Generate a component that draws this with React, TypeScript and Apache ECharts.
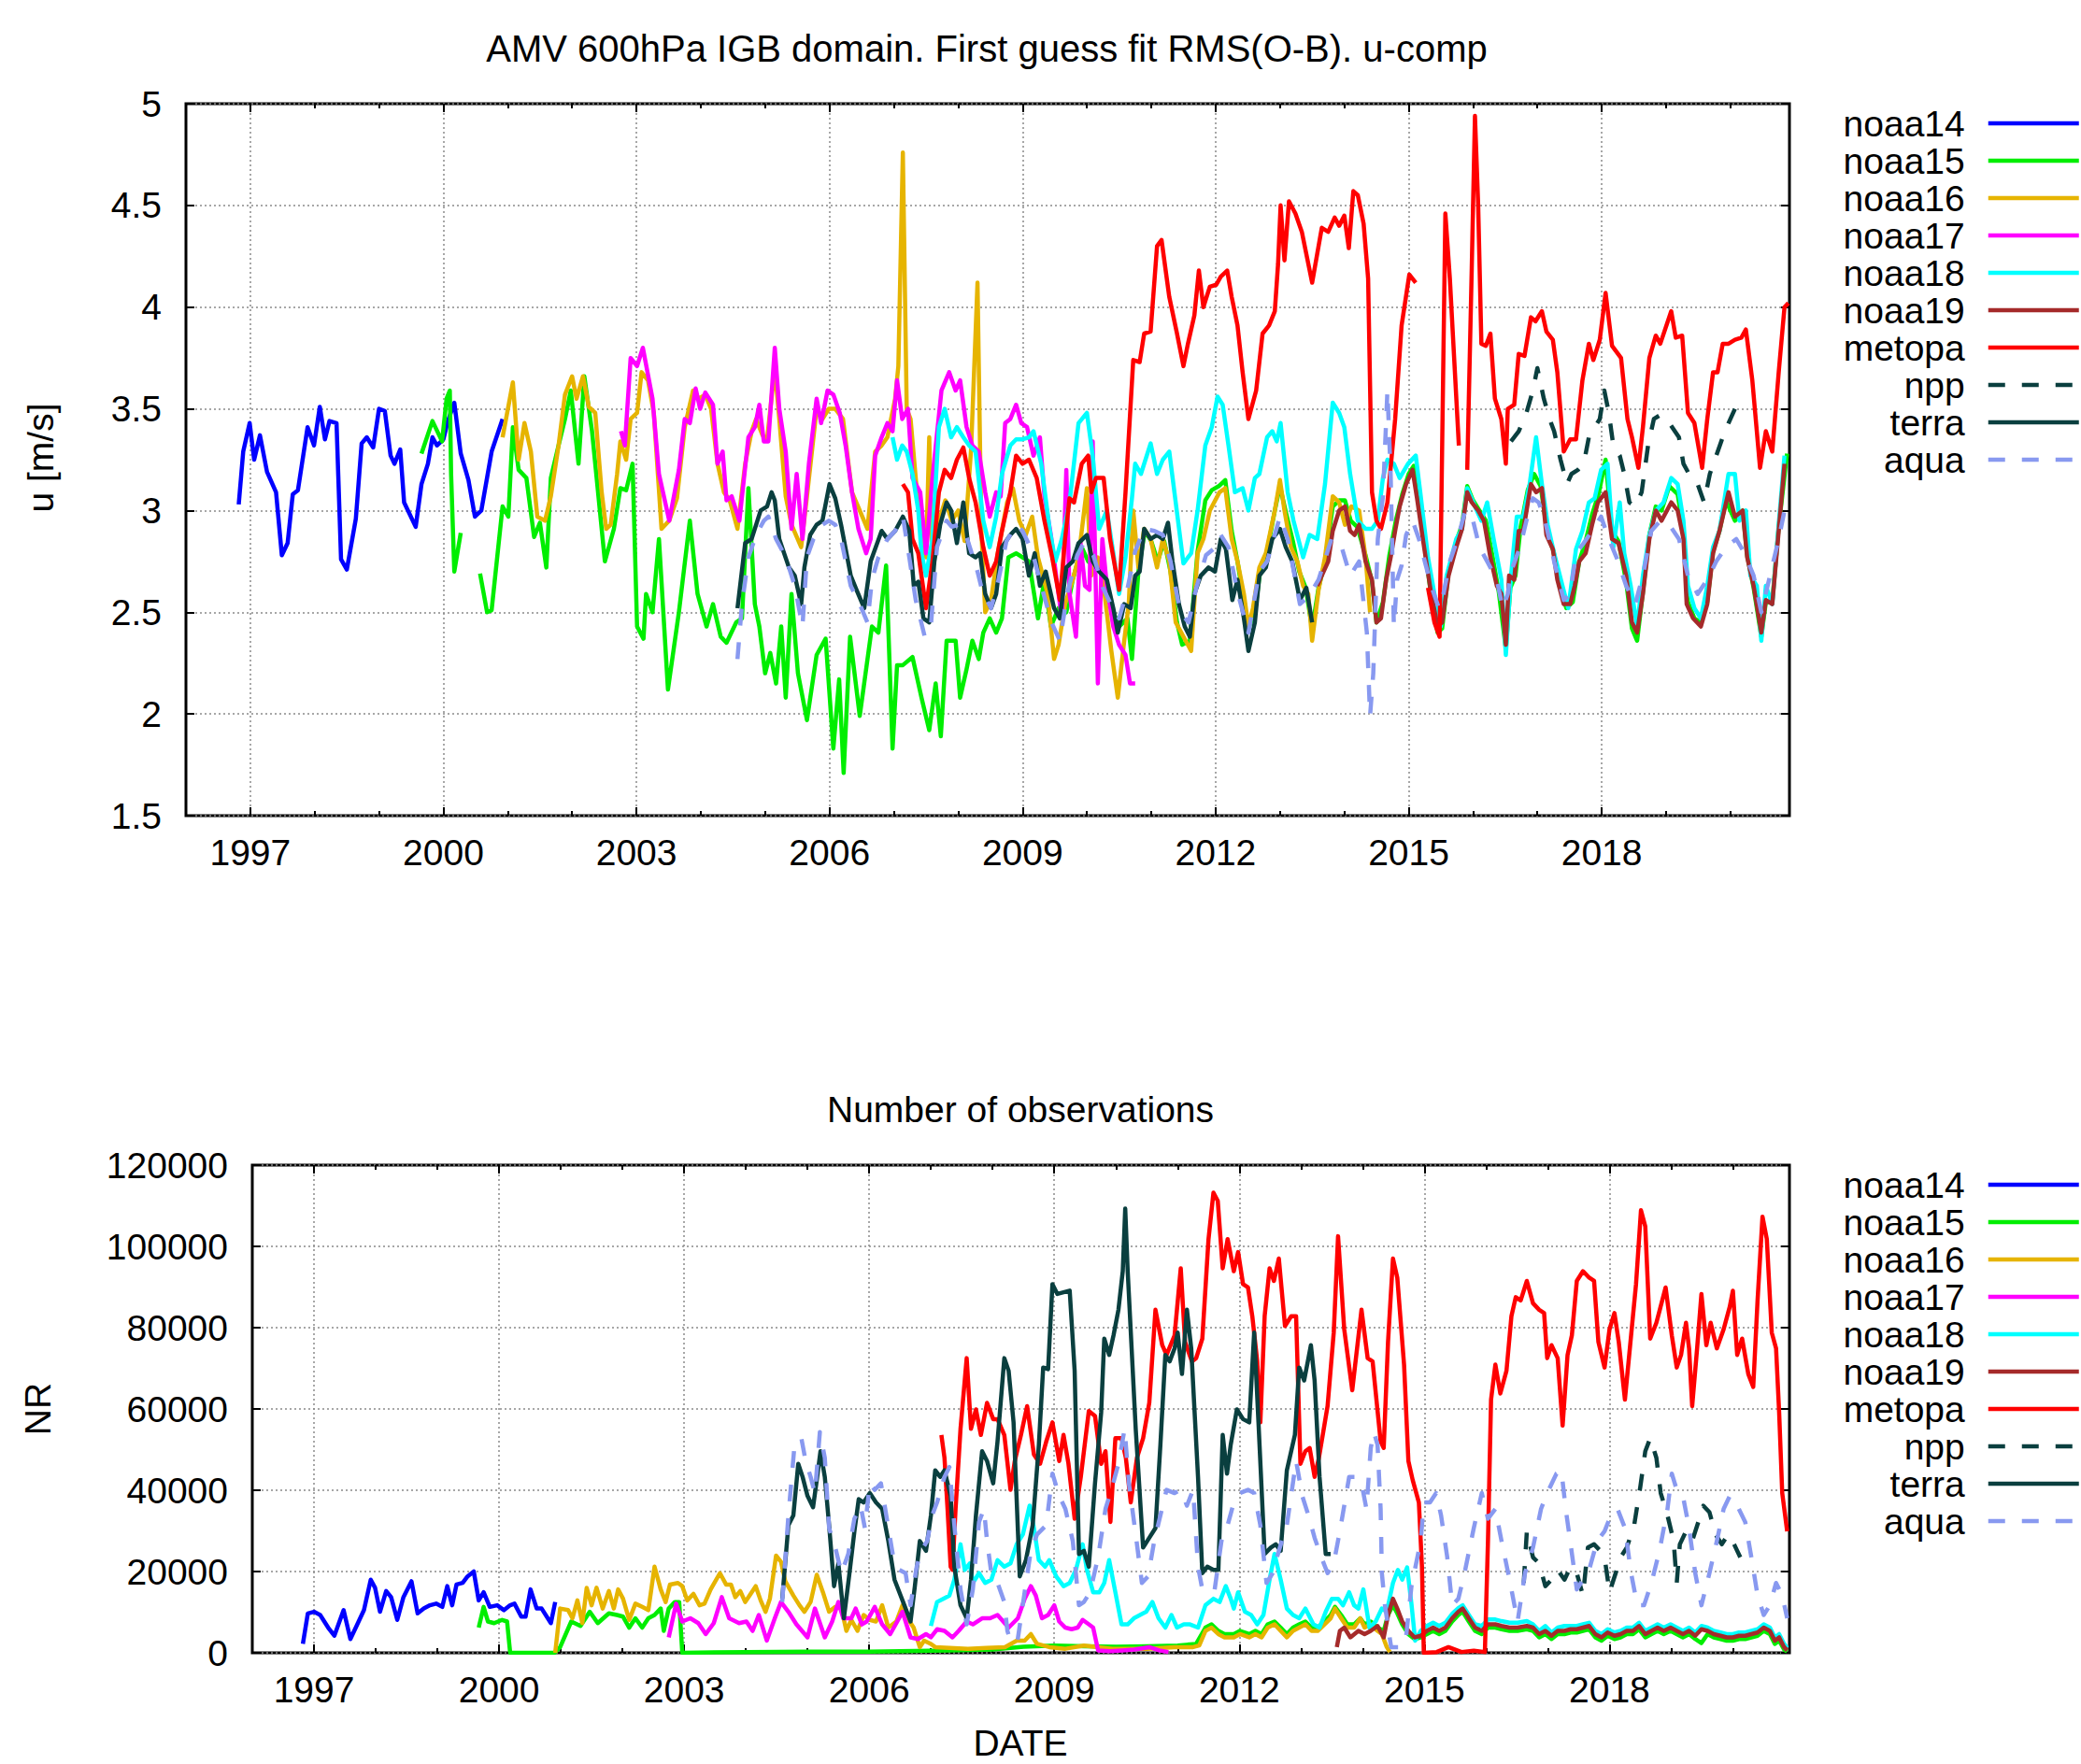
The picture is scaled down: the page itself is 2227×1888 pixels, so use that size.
import React, { useEffect, useRef } from "react";
import * as echarts from "echarts";

type Pt = [number, number | null];

const SERIES_NAMES = ["noaa14", "noaa15", "noaa16", "noaa17", "noaa18", "noaa19", "metopa", "npp", "terra", "aqua"];
const MAJOR_YEARS = [1997, 2000, 2003, 2006, 2009, 2012, 2015, 2018];
const ALL_YEARS = [1997, 1998, 1999, 2000, 2001, 2002, 2003, 2004, 2005, 2006, 2007, 2008, 2009, 2010, 2011, 2012, 2013, 2014, 2015, 2016, 2017, 2018, 2019, 2020];
const X_MIN = 1996.0;
const X_MAX = 2020.917;
const U_MIN = 1.5, U_MAX = 5, U_STEP = 0.5;
const N_MIN = 0, N_MAX = 120000, N_STEP = 20000;

const TITLE_TOP = "AMV 600hPa IGB domain. First guess fit RMS(O-B). u-comp";
const TITLE_BOTTOM = "Number of observations";
const YNAME_TOP = "u [m/s]";
const YNAME_BOTTOM = "NR";
const XNAME_BOTTOM = "DATE";

// ---------- RMS(O-B) u-comp [m/s] ----------
const U_NOAA14: Pt[] = [[1996.82,3.03],[1996.89,3.29],[1996.99,3.43],[1997.06,3.25],[1997.15,3.37],[1997.26,3.19],[1997.40,3.09],[1997.49,2.78],[1997.58,2.84],[1997.66,3.08],[1997.74,3.10],[1997.89,3.41],[1997.99,3.32],[1998.08,3.51],[1998.16,3.35],[1998.23,3.44],[1998.34,3.43],[1998.41,2.76],[1998.50,2.71],[1998.64,2.96],[1998.73,3.33],[1998.81,3.36],[1998.91,3.31],[1999.00,3.50],[1999.09,3.49],[1999.18,3.27],[1999.24,3.23],[1999.33,3.30],[1999.39,3.04],[1999.57,2.92],[1999.66,3.13],[1999.76,3.23],[1999.83,3.36],[1999.90,3.32],[2000.00,3.35],[2000.07,3.44],[2000.17,3.53],[2000.27,3.28],[2000.39,3.15],[2000.49,2.97],[2000.59,3.00],[2000.75,3.29],[2000.92,3.45]];

const U_NOAA15: Pt[] = [[1999.66,3.28],[1999.83,3.44],[1999.98,3.34],[2000.05,3.55],[2000.10,3.59],[2000.12,3.18],[2000.17,2.70],[2000.27,2.89],[2000.42,null],[2000.57,2.69],[2000.68,2.50],[2000.75,2.51],[2000.92,3.02],[2001.01,2.97],[2001.08,3.41],[2001.17,3.20],[2001.29,3.16],[2001.41,2.87],[2001.50,2.94],[2001.60,2.72],[2001.67,3.16],[2001.79,3.32],[2001.89,3.45],[2001.98,3.59],[2002.10,3.23],[2002.19,3.66],[2002.31,3.39],[2002.41,3.07],[2002.51,2.75],[2002.65,2.91],[2002.75,3.11],[2002.84,3.10],[2002.94,3.23],[2003.01,2.43],[2003.11,2.37],[2003.15,2.59],[2003.25,2.50],[2003.35,2.86],[2003.49,2.12],[2003.66,2.50],[2003.83,2.95],[2003.95,2.59],[2004.09,2.43],[2004.19,2.54],[2004.31,2.38],[2004.40,2.35],[2004.55,2.45],[2004.64,2.47],[2004.74,3.11],[2004.84,2.54],[2004.91,2.43],[2005.00,2.20],[2005.08,2.30],[2005.17,2.15],[2005.25,2.43],[2005.32,2.08],[2005.41,2.59],[2005.51,2.20],[2005.65,1.97],[2005.80,2.29],[2005.94,2.37],[2006.06,1.83],[2006.15,2.17],[2006.22,1.71],[2006.32,2.38],[2006.47,1.99],[2006.66,2.43],[2006.76,2.40],[2006.88,2.73],[2006.98,1.83],[2007.05,2.24],[2007.14,2.24],[2007.29,2.28],[2007.43,2.08],[2007.55,1.92],[2007.65,2.15],[2007.73,1.89],[2007.82,2.36],[2007.96,2.36],[2008.03,2.08],[2008.13,2.22],[2008.22,2.36],[2008.32,2.27],[2008.39,2.40],[2008.49,2.47],[2008.59,2.40],[2008.68,2.47],[2008.78,2.77],[2008.90,2.79],[2009.00,2.77],[2009.10,2.75],[2009.24,2.47],[2009.34,2.66],[2009.44,2.43],[2009.56,2.52],[2009.68,2.50],[2009.78,2.66],[2009.92,2.82],[2010.02,2.75],[2010.12,2.72],[2010.21,2.75],[2010.36,2.54],[2010.50,2.43],[2010.63,2.47],[2010.70,2.27],[2010.80,2.70],[2010.90,2.90],[2011.00,2.85],[2011.10,2.75],[2011.20,2.85],[2011.30,2.70],[2011.40,2.45],[2011.48,2.34],[2011.60,2.36],[2011.72,2.80],[2011.84,3.05],[2011.94,3.10],[2012.05,3.12],[2012.15,3.15],[2012.25,2.90],[2012.34,2.75],[2012.44,2.55],[2012.51,2.42],[2012.61,2.50],[2012.70,2.72],[2012.80,2.80],[2012.92,3.00],[2013.00,3.12],[2013.10,2.98],[2013.20,2.85],[2013.30,2.70],[2013.40,2.62],[2013.50,2.42],[2013.60,2.62],[2013.70,2.75],[2013.82,3.02],[2013.92,3.05],[2014.01,3.05],[2014.10,2.95],[2014.20,2.92],[2014.33,2.78],[2014.43,2.65],[2014.50,2.45],[2014.60,2.55],[2014.70,2.78],[2014.80,2.95],[2014.90,3.08],[2015.00,3.18],[2015.08,3.22],[2015.15,3.05],[2015.25,2.82],[2015.35,2.58],[2015.45,2.40],[2015.52,2.42],[2015.62,2.70],[2015.74,2.85],[2015.83,2.93],[2015.91,3.12],[2016.00,3.05],[2016.10,3.00],[2016.20,2.95],[2016.30,2.78],[2016.40,2.60],[2016.51,2.32],[2016.58,2.62],[2016.66,2.68],[2016.74,2.92],[2016.85,3.10],[2016.95,3.18],[2017.05,3.12],[2017.15,2.90],[2017.25,2.80],[2017.35,2.62],[2017.45,2.52],[2017.55,2.55],[2017.65,2.75],[2017.75,2.85],[2017.85,2.98],[2017.95,3.08],[2018.06,3.25],[2018.16,2.90],[2018.26,2.85],[2018.38,2.65],[2018.47,2.42],[2018.55,2.36],[2018.64,2.60],[2018.74,2.88],[2018.84,3.02],[2018.93,3.00],[2019.05,3.12],[2019.18,3.08],[2019.27,2.90],[2019.34,2.55],[2019.44,2.47],[2019.54,2.45],[2019.64,2.55],[2019.73,2.80],[2019.83,2.90],[2019.93,3.05],[2020.07,2.95],[2020.19,3.00],[2020.26,2.78],[2020.36,2.62],[2020.48,2.38],[2020.55,2.55],[2020.65,2.55],[2020.75,2.92],[2020.88,3.28]];

const U_NOAA16: Pt[] = [[2000.92,3.36],[2001.08,3.63],[2001.17,3.25],[2001.26,3.43],[2001.36,3.29],[2001.46,2.97],[2001.58,2.95],[2001.67,3.07],[2001.79,3.32],[2001.89,3.57],[2002.00,3.66],[2002.07,3.55],[2002.17,3.66],[2002.26,3.51],[2002.36,3.48],[2002.46,3.09],[2002.53,2.91],[2002.60,2.93],[2002.70,3.18],[2002.75,3.34],[2002.84,3.25],[2002.91,3.45],[2003.01,3.48],[2003.08,3.68],[2003.18,3.64],[2003.27,3.48],[2003.39,2.91],[2003.51,2.95],[2003.63,3.06],[2003.75,3.41],[2003.88,3.59],[2003.97,3.55],[2004.07,3.57],[2004.16,3.50],[2004.26,3.23],[2004.36,3.09],[2004.45,3.05],[2004.57,2.91],[2004.69,3.23],[2004.79,3.39],[2004.86,3.45],[2004.96,3.37],[2005.03,3.35],[2005.15,3.70],[2005.22,3.45],[2005.32,3.07],[2005.41,2.93],[2005.56,2.82],[2005.65,3.07],[2005.80,3.50],[2005.89,3.45],[2005.99,3.50],[2006.09,3.50],[2006.21,3.45],[2006.35,3.09],[2006.47,3.00],[2006.59,2.91],[2006.71,3.29],[2006.81,3.32],[2006.90,3.36],[2007.02,3.55],[2007.07,3.71],[2007.14,4.76],[2007.20,3.50],[2007.26,3.45],[2007.34,3.16],[2007.43,2.86],[2007.50,2.77],[2007.55,3.36],[2007.60,2.70],[2007.70,2.95],[2007.80,3.05],[2007.90,2.95],[2008.00,3.00],[2008.10,2.85],[2008.20,3.30],[2008.30,4.12],[2008.36,2.90],[2008.42,2.50],[2008.51,2.56],[2008.62,2.80],[2008.76,3.04],[2008.85,3.11],[2008.95,2.95],[2009.05,2.88],[2009.15,2.97],[2009.24,2.77],[2009.39,2.59],[2009.49,2.27],[2009.56,2.34],[2009.66,2.54],[2009.78,2.66],[2009.87,2.77],[2010.00,3.11],[2010.07,2.68],[2010.17,2.77],[2010.26,2.63],[2010.38,2.31],[2010.48,2.08],[2010.58,2.36],[2010.65,2.54],[2010.72,3.00],[2010.80,2.72],[2010.89,2.91],[2010.99,2.86],[2011.09,2.72],[2011.18,2.86],[2011.28,2.75],[2011.38,2.45],[2011.50,2.38],[2011.62,2.31],[2011.72,2.79],[2011.81,2.86],[2011.91,3.00],[2012.06,3.09],[2012.15,3.11],[2012.25,2.86],[2012.34,2.75],[2012.44,2.59],[2012.51,2.43],[2012.58,2.52],[2012.68,2.72],[2012.78,2.79],[2012.92,3.00],[2013.00,3.15],[2013.07,3.00],[2013.17,2.82],[2013.27,2.75],[2013.36,2.63],[2013.44,2.59],[2013.50,2.36],[2013.60,2.61],[2013.70,2.77],[2013.82,3.07],[2013.92,3.04],[2014.01,2.93],[2014.11,3.02],[2014.23,3.00],[2014.33,2.77],[2014.40,2.50]];

const U_NOAA17: Pt[] = [[2002.76,3.39],[2002.82,3.32],[2002.91,3.75],[2003.01,3.71],[2003.10,3.80],[2003.25,3.55],[2003.35,3.18],[2003.51,2.95],[2003.66,3.20],[2003.75,3.45],[2003.83,3.43],[2003.92,3.60],[2003.99,3.50],[2004.07,3.58],[2004.19,3.52],[2004.26,3.23],[2004.34,3.29],[2004.40,3.05],[2004.48,3.07],[2004.60,2.95],[2004.74,3.36],[2004.84,3.41],[2004.91,3.52],[2004.98,3.34],[2005.05,3.34],[2005.15,3.80],[2005.22,3.50],[2005.32,3.29],[2005.41,2.91],[2005.49,3.18],[2005.58,2.86],[2005.68,3.23],[2005.80,3.55],[2005.87,3.43],[2005.97,3.59],[2006.06,3.57],[2006.16,3.48],[2006.25,3.32],[2006.35,3.09],[2006.45,2.91],[2006.57,2.79],[2006.64,2.86],[2006.71,3.27],[2006.81,3.36],[2006.90,3.43],[2006.98,3.39],[2007.05,3.64],[2007.13,3.45],[2007.22,3.50],[2007.29,3.16],[2007.41,3.09],[2007.50,2.79],[2007.60,3.16],[2007.74,3.59],[2007.86,3.68],[2007.96,3.59],[2008.03,3.64],[2008.13,3.41],[2008.22,3.32],[2008.32,3.29],[2008.42,3.09],[2008.49,2.97],[2008.59,3.09],[2008.66,3.07],[2008.73,3.43],[2008.81,3.45],[2008.90,3.52],[2008.98,3.43],[2009.07,3.41],[2009.17,3.27],[2009.27,3.36],[2009.34,3.07],[2009.44,2.88],[2009.53,2.66],[2009.61,2.47],[2009.68,3.20],[2009.73,2.59],[2009.83,2.38],[2009.90,2.84],[2009.97,2.63],[2010.04,2.61],[2010.09,3.34],[2010.17,2.15],[2010.24,2.86],[2010.31,2.63],[2010.41,2.43],[2010.50,2.34],[2010.60,2.29],[2010.67,2.15],[2010.75,2.15]];

const U_NOAA18: Pt[] = [[2006.98,3.36],[2007.05,3.25],[2007.13,3.32],[2007.20,3.29],[2007.29,3.18],[2007.38,3.00],[2007.43,2.79],[2007.50,2.68],[2007.60,2.86],[2007.70,3.41],[2007.79,3.50],[2007.89,3.36],[2007.98,3.41],[2008.08,3.36],[2008.17,3.32],[2008.27,3.29],[2008.39,2.95],[2008.49,2.82],[2008.59,2.97],[2008.68,3.18],[2008.81,3.32],[2008.90,3.35],[2009.00,3.35],[2009.10,3.36],[2009.17,3.39],[2009.29,3.23],[2009.42,2.91],[2009.51,2.75],[2009.61,2.86],[2009.73,3.04],[2009.87,3.43],[2010.00,3.48],[2010.09,3.27],[2010.19,2.91],[2010.31,3.00],[2010.41,2.79],[2010.50,2.59],[2010.60,2.77],[2010.70,3.06],[2010.75,3.23],[2010.84,3.18],[2010.99,3.33],[2011.09,3.18],[2011.18,3.25],[2011.28,3.29],[2011.38,3.04],[2011.50,2.74],[2011.62,2.79],[2011.72,3.00],[2011.84,3.32],[2011.94,3.41],[2012.03,3.56],[2012.11,3.52],[2012.20,3.32],[2012.30,3.09],[2012.42,3.11],[2012.51,3.00],[2012.61,3.16],[2012.68,3.18],[2012.80,3.36],[2012.88,3.39],[2012.95,3.34],[2013.01,3.43],[2013.12,3.09],[2013.21,2.95],[2013.36,2.77],[2013.46,2.88],[2013.58,2.86],[2013.70,3.13],[2013.82,3.53],[2013.92,3.48],[2014.00,3.41],[2014.09,3.18],[2014.21,2.95],[2014.33,2.91],[2014.43,2.91],[2014.52,2.95],[2014.60,3.16],[2014.67,3.25],[2014.77,3.23],[2014.86,3.16],[2014.99,3.23],[2015.11,3.27],[2015.18,3.09],[2015.30,2.77],[2015.40,2.59],[2015.50,2.43],[2015.59,2.68],[2015.74,2.86],[2015.83,2.91],[2015.91,3.11],[2016.03,3.02],[2016.13,2.95],[2016.22,3.04],[2016.32,2.86],[2016.44,2.66],[2016.51,2.29],[2016.59,2.68],[2016.68,2.97],[2016.78,2.97],[2016.88,3.13],[2016.98,3.36],[2017.07,3.13],[2017.16,2.93],[2017.26,2.79],[2017.39,2.63],[2017.48,2.52],[2017.60,2.81],[2017.70,2.90],[2017.80,3.04],[2017.89,3.06],[2017.99,3.20],[2018.09,3.23],[2018.18,2.82],[2018.28,3.04],[2018.35,2.79],[2018.45,2.63],[2018.55,2.43],[2018.64,2.68],[2018.74,2.88],[2018.84,3.00],[2018.96,3.04],[2019.08,3.16],[2019.18,3.13],[2019.27,2.95],[2019.34,2.63],[2019.44,2.52],[2019.54,2.47],[2019.64,2.63],[2019.73,2.82],[2019.83,2.90],[2019.90,3.04],[2019.97,3.18],[2020.07,3.18],[2020.14,2.95],[2020.24,3.00],[2020.31,2.68],[2020.41,2.63],[2020.48,2.36],[2020.55,2.63],[2020.65,2.54],[2020.75,2.93],[2020.84,3.27]];

const U_NOAA19: Pt[] = [[2013.58,2.63],[2013.65,2.68],[2013.75,2.75],[2013.82,2.90],[2013.92,3.00],[2014.01,3.02],[2014.09,2.90],[2014.16,2.88],[2014.23,2.93],[2014.33,2.75],[2014.43,2.66],[2014.50,2.45],[2014.57,2.47],[2014.65,2.66],[2014.72,2.77],[2014.79,2.90],[2014.86,3.02],[2014.96,3.13],[2015.06,3.20],[2015.13,3.06],[2015.23,2.84],[2015.35,2.59],[2015.45,2.43],[2015.52,2.45],[2015.62,2.68],[2015.74,2.82],[2015.83,2.91],[2015.91,3.09],[2015.98,3.04],[2016.08,3.00],[2016.17,2.95],[2016.27,2.77],[2016.37,2.63],[2016.44,2.59],[2016.51,2.34],[2016.56,2.68],[2016.64,2.66],[2016.71,2.90],[2016.78,2.90],[2016.90,3.13],[2016.98,3.09],[2017.07,3.11],[2017.14,2.88],[2017.24,2.81],[2017.31,2.66],[2017.41,2.54],[2017.51,2.54],[2017.58,2.63],[2017.65,2.75],[2017.75,2.79],[2017.85,2.93],[2017.94,3.04],[2018.06,3.09],[2018.16,2.86],[2018.26,2.84],[2018.38,2.68],[2018.47,2.45],[2018.55,2.40],[2018.64,2.59],[2018.74,2.86],[2018.84,3.00],[2018.93,2.95],[2019.08,3.04],[2019.18,3.00],[2019.27,2.86],[2019.32,2.54],[2019.42,2.47],[2019.54,2.43],[2019.64,2.54],[2019.73,2.79],[2019.83,2.90],[2019.97,3.09],[2020.07,2.97],[2020.19,3.00],[2020.26,2.77],[2020.36,2.63],[2020.48,2.40],[2020.55,2.56],[2020.65,2.54],[2020.75,2.90],[2020.84,3.23]];

const U_METOPA: Pt[] = [[2007.14,3.13],[2007.22,3.09],[2007.29,2.86],[2007.38,2.79],[2007.50,2.52],[2007.60,2.75],[2007.70,3.09],[2007.79,3.20],[2007.89,3.16],[2007.98,3.25],[2008.08,3.31],[2008.17,3.16],[2008.27,3.04],[2008.39,2.82],[2008.49,2.68],[2008.59,2.75],[2008.68,2.90],[2008.81,3.09],[2008.90,3.27],[2009.00,3.23],[2009.10,3.25],[2009.22,3.16],[2009.34,2.95],[2009.46,2.77],[2009.58,2.56],[2009.66,2.86],[2009.73,3.06],[2009.80,3.04],[2009.92,3.23],[2010.02,3.27],[2010.07,3.09],[2010.14,3.16],[2010.26,3.16],[2010.36,2.86],[2010.50,2.61],[2010.60,3.09],[2010.72,3.74],[2010.82,3.73],[2010.89,3.87],[2010.99,3.88],[2011.09,4.30],[2011.16,4.33],[2011.28,4.05],[2011.40,3.87],[2011.50,3.71],[2011.57,3.82],[2011.67,3.96],[2011.74,4.18],[2011.81,4.00],[2011.91,4.10],[2012.01,4.11],[2012.08,4.15],[2012.18,4.18],[2012.25,4.05],[2012.34,3.91],[2012.42,3.68],[2012.51,3.45],[2012.63,3.59],[2012.73,3.87],[2012.83,3.91],[2012.92,3.98],[2012.97,4.21],[2013.01,4.50],[2013.07,4.23],[2013.14,4.52],[2013.24,4.46],[2013.34,4.37],[2013.50,4.12],[2013.65,4.39],[2013.75,4.37],[2013.85,4.44],[2013.92,4.40],[2014.00,4.45],[2014.07,4.29],[2014.14,4.57],[2014.21,4.55],[2014.30,4.41],[2014.37,4.14],[2014.43,3.09],[2014.50,2.95],[2014.57,2.91],[2014.67,3.04],[2014.79,3.45],[2014.89,3.91],[2015.01,4.16],[2015.11,4.12],[2015.20,null],[2015.30,2.62],[2015.40,2.45],[2015.48,2.38],[2015.57,4.46],[2015.64,4.14],[2015.78,3.32],[2015.85,null],[2015.91,3.20],[2015.98,4.19],[2016.03,4.94],[2016.08,4.50],[2016.13,3.82],[2016.20,3.81],[2016.27,3.87],[2016.34,3.55],[2016.44,3.45],[2016.51,3.23],[2016.54,3.50],[2016.64,3.52],[2016.71,3.77],[2016.80,3.76],[2016.90,3.95],[2016.97,3.93],[2017.07,3.98],[2017.14,3.88],[2017.24,3.84],[2017.31,3.68],[2017.41,3.29],[2017.51,3.35],[2017.60,3.35],[2017.70,3.64],[2017.80,3.82],[2017.87,3.74],[2017.97,3.84],[2018.06,4.07],[2018.16,3.81],[2018.30,3.75],[2018.40,3.45],[2018.47,3.36],[2018.57,3.21],[2018.64,3.41],[2018.74,3.75],[2018.84,3.86],[2018.91,3.82],[2019.08,3.98],[2019.15,3.85],[2019.25,3.86],[2019.34,3.48],[2019.44,3.43],[2019.56,3.21],[2019.64,3.45],[2019.73,3.68],[2019.80,3.68],[2019.88,3.82],[2019.97,3.82],[2020.07,3.84],[2020.17,3.85],[2020.24,3.89],[2020.34,3.64],[2020.46,3.21],[2020.55,3.39],[2020.65,3.29],[2020.75,3.68],[2020.84,4.00],[2020.90,4.02]];

const U_NPP: Pt[] = [[2016.59,3.34],[2016.71,3.39],[2016.83,3.48],[2016.93,3.59],[2017.00,3.70],[2017.10,3.55],[2017.19,3.45],[2017.26,3.39],[2017.36,3.25],[2017.46,3.13],[2017.53,3.18],[2017.63,3.20],[2017.72,3.23],[2017.80,3.36],[2017.89,3.41],[2017.97,3.45],[2018.04,3.59],[2018.11,3.48],[2018.18,3.32],[2018.28,3.27],[2018.35,3.18],[2018.43,3.04],[2018.52,3.02],[2018.62,3.09],[2018.72,3.32],[2018.81,3.45],[2018.91,3.47],[2019.03,3.44],[2019.20,3.36],[2019.27,3.23],[2019.39,3.16],[2019.49,3.13],[2019.59,3.04],[2019.68,3.18],[2019.78,3.27],[2019.88,3.36],[2019.97,3.43],[2020.07,3.50]];

const U_TERRA: Pt[] = [[2004.57,2.52],[2004.69,2.84],[2004.79,2.86],[2004.93,3.00],[2005.03,3.02],[2005.10,3.09],[2005.15,3.05],[2005.22,2.86],[2005.37,2.72],[2005.46,2.68],[2005.56,2.54],[2005.61,2.72],[2005.70,2.88],[2005.80,2.93],[2005.89,2.95],[2006.00,3.13],[2006.09,3.06],[2006.18,2.93],[2006.33,2.68],[2006.42,2.61],[2006.54,2.52],[2006.64,2.75],[2006.81,2.90],[2006.90,2.86],[2007.02,2.90],[2007.14,2.97],[2007.24,2.90],[2007.31,2.63],[2007.38,2.65],[2007.46,2.47],[2007.55,2.45],[2007.63,2.75],[2007.72,2.93],[2007.82,3.04],[2007.89,3.00],[2007.98,2.84],[2008.08,3.04],[2008.17,2.79],[2008.27,2.77],[2008.34,2.79],[2008.42,2.59],[2008.51,2.52],[2008.59,2.59],[2008.68,2.82],[2008.81,2.88],[2008.90,2.91],[2009.00,2.86],[2009.10,2.68],[2009.19,2.79],[2009.27,2.63],[2009.36,2.70],[2009.49,2.52],[2009.58,2.47],[2009.68,2.72],[2009.78,2.75],[2009.87,2.84],[2010.00,2.88],[2010.09,2.75],[2010.19,2.70],[2010.31,2.66],[2010.41,2.52],[2010.48,2.40],[2010.58,2.54],[2010.68,2.52],[2010.75,2.68],[2010.82,2.70],[2010.89,2.91],[2010.99,2.86],[2011.09,2.88],[2011.18,2.86],[2011.26,2.94],[2011.33,2.75],[2011.43,2.54],[2011.52,2.43],[2011.60,2.38],[2011.67,2.59],[2011.77,2.68],[2011.89,2.72],[2011.99,2.70],[2012.08,2.86],[2012.16,2.81],[2012.26,2.56],[2012.34,2.66],[2012.44,2.47],[2012.51,2.31],[2012.61,2.45],[2012.68,2.68],[2012.78,2.72],[2012.88,2.86],[2013.00,2.91],[2013.09,2.82],[2013.19,2.75],[2013.31,2.56],[2013.41,2.62],[2013.50,2.45]];

const U_AQUA: Pt[] = [[2004.57,2.27],[2004.64,2.54],[2004.74,2.77],[2004.86,2.88],[2004.98,2.95],[2005.05,2.97],[2005.17,2.86],[2005.32,2.77],[2005.46,2.63],[2005.58,2.43],[2005.65,2.77],[2005.75,2.86],[2005.89,2.93],[2005.99,2.95],[2006.09,2.93],[2006.18,2.86],[2006.33,2.63],[2006.47,2.54],[2006.59,2.45],[2006.66,2.66],[2006.76,2.77],[2006.90,2.86],[2007.02,2.90],[2007.14,2.97],[2007.24,2.77],[2007.34,2.56],[2007.48,2.38],[2007.58,2.45],[2007.67,2.82],[2007.82,2.95],[2007.90,2.92],[2008.00,2.93],[2008.10,2.90],[2008.20,2.80],[2008.30,2.70],[2008.37,2.61],[2008.51,2.52],[2008.62,2.65],[2008.75,2.85],[2008.90,2.93],[2009.00,2.90],[2009.15,2.80],[2009.30,2.62],[2009.45,2.45],[2009.58,2.36],[2009.70,2.60],[2009.85,2.78],[2009.95,2.84],[2010.10,2.78],[2010.25,2.62],[2010.40,2.52],[2010.50,2.47],[2010.62,2.60],[2010.75,2.80],[2010.89,2.91],[2011.05,2.90],[2011.18,2.88],[2011.30,2.75],[2011.45,2.50],[2011.58,2.45],[2011.70,2.62],[2011.85,2.78],[2012.00,2.82],[2012.08,2.88],[2012.20,2.82],[2012.34,2.60],[2012.51,2.40],[2012.68,2.70],[2012.80,2.75],[2013.00,2.97],[2013.12,2.86],[2013.31,2.54],[2013.45,2.58],[2013.60,2.66],[2013.80,2.86],[2013.94,2.84],[2014.09,2.68],[2014.23,2.75],[2014.35,2.40],[2014.40,1.99],[2014.45,2.20],[2014.52,2.86],[2014.60,3.07],[2014.67,3.59],[2014.72,3.18],[2014.77,2.43],[2014.82,2.66],[2014.89,2.73],[2014.96,2.88],[2015.06,2.95],[2015.16,2.86],[2015.25,2.75],[2015.35,2.63],[2015.47,2.52],[2015.54,2.59],[2015.64,2.75],[2015.76,2.86],[2015.88,3.00],[2016.00,2.95],[2016.10,2.82],[2016.22,2.75],[2016.37,2.66],[2016.46,2.52],[2016.54,2.59],[2016.59,2.70],[2016.73,2.82],[2016.83,2.95],[2016.93,3.06],[2017.02,3.04],[2017.12,2.95],[2017.26,2.75],[2017.41,2.56],[2017.51,2.59],[2017.60,2.79],[2017.72,2.84],[2017.85,2.90],[2017.99,2.97],[2018.11,2.86],[2018.23,2.77],[2018.38,2.63],[2018.52,2.54],[2018.64,2.68],[2018.77,2.90],[2018.91,2.95],[2019.05,2.93],[2019.20,2.86],[2019.34,2.68],[2019.49,2.59],[2019.64,2.66],[2019.78,2.75],[2019.93,2.82],[2020.09,2.86],[2020.22,2.79],[2020.36,2.68],[2020.48,2.50],[2020.60,2.66],[2020.75,2.86],[2020.84,3.00]];

// ---------- Number of observations ----------
const N_NOAA14: Pt[] = [[1996.82,2200],[1996.90,9700],[1997.00,10100],[1997.10,9300],[1997.23,6200],[1997.33,4200],[1997.48,10500],[1997.59,3400],[1997.69,6600],[1997.81,10500],[1997.92,18000],[1997.99,16000],[1998.07,10100],[1998.17,15200],[1998.25,13700],[1998.35,8100],[1998.45,13700],[1998.58,17600],[1998.68,9700],[1998.78,10900],[1998.88,11700],[1998.98,12100],[1999.08,11300],[1999.16,16400],[1999.24,11700],[1999.31,16800],[1999.41,17200],[1999.49,18800],[1999.59,20000],[1999.67,12900],[1999.75,14900],[1999.85,11300],[1999.97,11700],[2000.08,10500],[2000.18,11700],[2000.25,12100],[2000.36,8900],[2000.43,8900],[2000.51,15600],[2000.61,10900],[2000.69,10900],[2000.84,7300],[2000.91,12500]];

const N_NOAA15: Pt[] = [[1999.67,6200],[1999.75,11300],[1999.82,7700],[1999.92,7300],[2000.05,8100],[2000.13,7700],[2000.18,0],[2000.30,0],[2000.60,0],[2000.90,0],[2000.99,1400],[2001.17,7700],[2001.32,6600],[2001.47,10100],[2001.60,7300],[2001.78,9700],[2001.91,9300],[2002.01,8900],[2002.11,6200],[2002.21,8500],[2002.32,6200],[2002.42,8500],[2002.52,9300],[2002.62,10900],[2002.67,5400],[2002.75,10900],[2002.85,12500],[2002.92,12500],[2002.97,0],[2004.00,200],[2005.00,300],[2006.00,300],[2007.00,500],[2008.00,800],[2008.50,1500],[2009.00,1800],[2009.50,1600],[2010.00,1500],[2010.50,1600],[2011.00,1800],[2011.30,2200],[2011.45,6200],[2011.55,7000],[2011.66,5400],[2011.76,4600],[2011.91,4600],[2012.01,5400],[2012.16,4600],[2012.26,5400],[2012.36,4600],[2012.46,7000],[2012.57,7700],[2012.67,6200],[2012.77,4600],[2012.87,6200],[2012.97,7000],[2013.07,7700],[2013.17,6200],[2013.27,6200],[2013.38,7700],[2013.48,9300],[2013.55,11300],[2013.65,9300],[2013.75,7000],[2013.86,7000],[2013.96,8500],[2014.03,7000],[2014.13,7700],[2014.24,6200],[2014.34,5400],[2014.41,9300],[2014.49,11700],[2014.56,9700],[2014.64,7000],[2014.74,4600],[2014.84,3400],[2014.94,3800],[2015.04,4600],[2015.14,5400],[2015.24,4600],[2015.34,5400],[2015.45,7700],[2015.55,9300],[2015.62,10100],[2015.72,7700],[2015.82,5400],[2015.93,4600],[2016.03,6200],[2016.15,6200],[2016.25,5800],[2016.38,5400],[2016.51,5400],[2016.66,5800],[2016.76,5400],[2016.86,3800],[2016.96,4600],[2017.06,3400],[2017.16,4600],[2017.27,4600],[2017.37,5000],[2017.47,5000],[2017.57,5400],[2017.67,5800],[2017.77,3800],[2017.87,3000],[2017.97,4200],[2018.08,3400],[2018.18,3800],[2018.28,4600],[2018.38,4600],[2018.48,5800],[2018.58,3800],[2018.68,4600],[2018.78,5400],[2018.88,4600],[2018.99,5400],[2019.09,4600],[2019.19,3800],[2019.29,4600],[2019.39,3400],[2019.49,2400],[2019.59,4600],[2019.69,3800],[2019.80,3400],[2019.90,3000],[2020.00,3000],[2020.10,3400],[2020.20,3400],[2020.30,3800],[2020.40,4200],[2020.50,5400],[2020.60,4600],[2020.68,2200],[2020.75,3000],[2020.83,800],[2020.88,300]];

const N_NOAA16: Pt[] = [[2000.91,0],[2000.99,10900],[2001.12,10500],[2001.19,8500],[2001.27,12900],[2001.35,7300],[2001.42,16000],[2001.50,11700],[2001.58,16000],[2001.68,10900],[2001.78,15200],[2001.86,10900],[2001.93,15600],[2002.01,13300],[2002.11,8100],[2002.21,12100],[2002.32,11300],[2002.42,10500],[2002.52,21200],[2002.62,15600],[2002.70,12500],[2002.77,16800],[2002.90,17200],[2002.97,16400],[2003.05,12900],[2003.15,14500],[2003.25,11700],[2003.33,12100],[2003.43,15600],[2003.58,19600],[2003.68,16800],[2003.76,16800],[2003.83,13700],[2003.91,15200],[2003.99,12500],[2004.06,14100],[2004.16,16400],[2004.24,12900],[2004.32,10100],[2004.39,13300],[2004.49,23900],[2004.57,22400],[2004.64,17600],[2004.77,14100],[2004.87,11700],[2004.95,10100],[2005.05,12500],[2005.15,19200],[2005.25,14900],[2005.35,10100],[2005.45,11300],[2005.55,10900],[2005.63,5400],[2005.71,8100],[2005.81,5400],[2005.91,9300],[2006.01,8100],[2006.11,7700],[2006.21,11700],[2006.31,6200],[2006.44,7700],[2006.54,11700],[2006.62,8500],[2006.72,6200],[2006.82,1400],[2006.89,3000],[2007.00,2200],[2007.07,1400],[2007.30,1200],[2007.60,1000],[2007.90,1200],[2008.20,1400],[2008.39,3000],[2008.52,3000],[2008.62,4600],[2008.72,2200],[2008.92,1400],[2009.18,1000],[2009.48,1800],[2009.94,1000],[2010.50,1000],[2010.95,1400],[2011.25,1400],[2011.35,1800],[2011.45,5400],[2011.55,6200],[2011.66,4600],[2011.76,3800],[2011.91,3800],[2012.01,4600],[2012.16,3800],[2012.26,4600],[2012.36,3800],[2012.46,6200],[2012.57,7000],[2012.67,5400],[2012.77,3800],[2012.87,5400],[2012.97,6200],[2013.07,7000],[2013.17,5400],[2013.27,5400],[2013.38,7000],[2013.48,8500],[2013.55,10900],[2013.65,8500],[2013.75,6200],[2013.86,6200],[2013.96,8500],[2014.03,6200],[2014.13,7000],[2014.24,5400],[2014.31,4600],[2014.39,1400],[2014.44,200]];

const N_NOAA17: Pt[] = [[2002.75,3800],[2002.87,12100],[2002.97,7700],[2003.10,8500],[2003.23,7300],[2003.35,4600],[2003.48,7300],[2003.61,13700],[2003.73,8500],[2003.89,7300],[2004.01,7700],[2004.11,5400],[2004.21,9300],[2004.34,3000],[2004.47,8500],[2004.57,12500],[2004.69,10100],[2004.82,7000],[2005.00,3800],[2005.12,10900],[2005.28,3800],[2005.40,7700],[2005.50,12500],[2005.58,8500],[2005.71,8500],[2005.78,10900],[2005.88,7000],[2005.96,7700],[2006.09,11300],[2006.21,7000],[2006.34,4600],[2006.44,7300],[2006.54,10100],[2006.67,3800],[2006.79,3400],[2006.92,4600],[2007.00,3800],[2007.10,5800],[2007.22,5400],[2007.35,3800],[2007.45,5400],[2007.58,7700],[2007.68,7000],[2007.83,8500],[2007.96,8500],[2008.08,9300],[2008.26,6200],[2008.41,8500],[2008.52,13300],[2008.62,16400],[2008.70,14100],[2008.80,8500],[2008.90,9300],[2009.00,11700],[2009.08,7700],[2009.18,6200],[2009.28,5800],[2009.38,6200],[2009.46,8100],[2009.56,7000],[2009.63,6200],[2009.71,600],[2009.90,400],[2010.10,600],[2010.30,800],[2010.54,1400],[2010.70,600],[2010.85,200]];

const N_NOAA18: Pt[] = [[2007.00,6600],[2007.10,12500],[2007.20,13300],[2007.30,14100],[2007.38,18000],[2007.48,26700],[2007.55,20400],[2007.63,22000],[2007.68,17200],[2007.78,19600],[2007.88,17200],[2007.98,18000],[2008.08,22800],[2008.19,21200],[2008.29,22000],[2008.39,26700],[2008.49,29100],[2008.60,36200],[2008.67,30700],[2008.75,22800],[2008.85,21200],[2008.92,22800],[2009.03,18800],[2009.15,16400],[2009.25,17200],[2009.35,20400],[2009.46,26700],[2009.53,20400],[2009.63,14900],[2009.73,14900],[2009.81,17200],[2009.89,22800],[2009.99,14900],[2010.09,7000],[2010.19,7000],[2010.29,8500],[2010.39,9300],[2010.49,10100],[2010.59,12500],[2010.69,8500],[2010.80,6200],[2010.90,9300],[2010.99,6200],[2011.10,7000],[2011.20,7000],[2011.33,6200],[2011.45,11700],[2011.58,13300],[2011.68,12500],[2011.78,16400],[2011.86,13300],[2011.91,10900],[2011.98,14900],[2012.09,10100],[2012.19,9300],[2012.29,7000],[2012.39,9300],[2012.49,18000],[2012.57,24300],[2012.67,18000],[2012.77,10900],[2012.87,9300],[2012.97,8500],[2013.07,10900],[2013.20,7000],[2013.30,6200],[2013.40,10100],[2013.50,13300],[2013.60,13300],[2013.68,11700],[2013.78,14900],[2013.86,11700],[2013.93,10900],[2014.01,15600],[2014.11,6200],[2014.21,7700],[2014.31,10900],[2014.39,10100],[2014.49,17200],[2014.57,20400],[2014.64,18000],[2014.72,21000],[2014.79,12000],[2014.85,3000],[2014.94,5400],[2015.04,6600],[2015.14,7400],[2015.24,6600],[2015.34,7400],[2015.45,9600],[2015.55,11000],[2015.62,11700],[2015.72,9300],[2015.82,7000],[2015.93,6600],[2016.03,8200],[2016.15,8200],[2016.25,7800],[2016.38,7400],[2016.51,7400],[2016.66,7800],[2016.76,7000],[2016.86,5400],[2016.96,6600],[2017.06,5000],[2017.16,6200],[2017.27,6600],[2017.37,6600],[2017.47,6600],[2017.57,7000],[2017.67,7400],[2017.77,5400],[2017.87,4600],[2017.97,5800],[2018.08,5000],[2018.18,5400],[2018.28,6200],[2018.38,6200],[2018.48,7400],[2018.58,5400],[2018.68,6200],[2018.78,7000],[2018.88,6200],[2018.99,7000],[2019.09,6200],[2019.19,5400],[2019.29,6200],[2019.39,5000],[2019.49,6600],[2019.59,6200],[2019.69,5400],[2019.80,5000],[2019.90,4600],[2020.00,4600],[2020.10,5000],[2020.20,5000],[2020.30,5400],[2020.40,5800],[2020.50,7000],[2020.60,6200],[2020.68,3800],[2020.75,4600],[2020.83,2200],[2020.88,1200]];

const N_NOAA19: Pt[] = [[2013.58,1400],[2013.63,5400],[2013.70,6200],[2013.80,3800],[2013.93,5400],[2014.03,4600],[2014.13,5400],[2014.24,6600],[2014.34,3800],[2014.41,9300],[2014.49,13300],[2014.56,10900],[2014.64,7700],[2014.74,5400],[2014.84,3800],[2014.94,4200],[2015.04,5400],[2015.14,6200],[2015.24,5400],[2015.34,6200],[2015.45,8500],[2015.55,10100],[2015.62,10900],[2015.72,8500],[2015.82,6200],[2015.93,5400],[2016.03,7000],[2016.15,7000],[2016.25,6600],[2016.38,6200],[2016.51,6200],[2016.66,6600],[2016.76,6200],[2016.86,4600],[2016.96,5400],[2017.06,4200],[2017.16,5400],[2017.27,5400],[2017.37,5800],[2017.47,5800],[2017.57,6200],[2017.67,6600],[2017.77,4600],[2017.87,3800],[2017.97,5000],[2018.08,4200],[2018.18,4600],[2018.28,5400],[2018.38,5400],[2018.48,6600],[2018.58,4600],[2018.68,5400],[2018.78,6200],[2018.88,5400],[2018.99,6200],[2019.09,5400],[2019.19,4600],[2019.29,5400],[2019.39,4200],[2019.49,5800],[2019.59,5400],[2019.69,4600],[2019.80,4200],[2019.90,3800],[2020.00,3800],[2020.10,4200],[2020.20,4200],[2020.30,4600],[2020.40,5000],[2020.50,6200],[2020.60,5400],[2020.68,3000],[2020.75,3800],[2020.83,1400],[2020.88,600]];

const N_METOPA: Pt[] = [[2007.17,53600],[2007.22,48000],[2007.27,35400],[2007.32,21200],[2007.35,20400],[2007.40,35400],[2007.48,55100],[2007.58,72500],[2007.65,55100],[2007.73,59900],[2007.81,53600],[2007.91,61500],[2008.01,57500],[2008.08,57500],[2008.19,53600],[2008.29,40100],[2008.36,47200],[2008.46,53600],[2008.56,60700],[2008.67,48800],[2008.77,46500],[2008.87,52000],[2008.97,56700],[2009.08,47200],[2009.15,53600],[2009.23,46500],[2009.33,33000],[2009.43,43300],[2009.56,59500],[2009.66,58300],[2009.76,46500],[2009.83,49600],[2009.91,32200],[2009.99,52800],[2010.09,52800],[2010.16,48000],[2010.24,37000],[2010.34,48000],[2010.44,52800],[2010.54,61500],[2010.64,84400],[2010.75,75700],[2010.82,73300],[2010.95,78100],[2011.05,94600],[2011.12,76500],[2011.23,71700],[2011.30,72500],[2011.40,77300],[2011.50,101800],[2011.58,113200],[2011.65,111200],[2011.73,94600],[2011.81,101800],[2011.91,93900],[2011.98,98600],[2012.06,90700],[2012.14,89900],[2012.21,82800],[2012.29,71700],[2012.34,56700],[2012.41,82800],[2012.49,94600],[2012.56,91500],[2012.64,97000],[2012.74,80400],[2012.84,82800],[2012.92,82800],[2012.99,46500],[2013.07,49600],[2013.14,50400],[2013.22,43300],[2013.29,48000],[2013.43,60700],[2013.53,78800],[2013.60,102500],[2013.70,79600],[2013.83,64600],[2013.98,84400],[2014.08,72500],[2014.16,71700],[2014.29,52000],[2014.34,50400],[2014.41,76500],[2014.49,97000],[2014.56,92300],[2014.67,70900],[2014.74,47200],[2014.81,42500],[2014.91,37000],[2014.96,21200],[2014.99,0],[2015.20,200],[2015.39,1400],[2015.60,200],[2015.80,500],[2015.98,200],[2016.03,27500],[2016.08,62300],[2016.15,70900],[2016.23,63800],[2016.33,69400],[2016.41,82800],[2016.48,87500],[2016.56,86700],[2016.66,91500],[2016.76,86000],[2016.86,84400],[2016.94,83600],[2016.99,72500],[2017.06,75700],[2017.16,72500],[2017.24,55900],[2017.32,73300],[2017.39,78100],[2017.47,91500],[2017.57,93900],[2017.67,92300],[2017.75,91500],[2017.82,76500],[2017.92,70200],[2018.00,79600],[2018.08,83600],[2018.15,76500],[2018.25,62300],[2018.35,78100],[2018.43,90700],[2018.51,108900],[2018.58,104900],[2018.66,77300],[2018.76,81200],[2018.91,89900],[2019.01,78100],[2019.09,70200],[2019.16,73300],[2019.24,81200],[2019.29,74900],[2019.34,60700],[2019.42,74900],[2019.49,88300],[2019.57,75700],[2019.64,81200],[2019.74,74900],[2019.85,79600],[2019.95,85200],[2020.00,89100],[2020.07,73300],[2020.15,77300],[2020.25,68600],[2020.33,65400],[2020.40,86700],[2020.48,107300],[2020.55,101800],[2020.63,78800],[2020.70,74900],[2020.75,59100],[2020.80,39300],[2020.88,29900]];

const N_NPP: Pt[] = [[2016.61,17200],[2016.66,29900],[2016.76,23500],[2016.86,22000],[2016.96,16400],[2017.06,18000],[2017.16,20400],[2017.27,18000],[2017.37,21200],[2017.47,19600],[2017.57,14100],[2017.65,25900],[2017.75,26700],[2017.85,25100],[2017.92,23500],[2018.00,14900],[2018.10,19600],[2018.18,23500],[2018.28,25900],[2018.40,31400],[2018.50,40900],[2018.58,49600],[2018.66,52800],[2018.76,48000],[2018.83,39300],[2018.94,33800],[2019.04,27500],[2019.09,17200],[2019.14,26700],[2019.24,29900],[2019.34,27500],[2019.44,32200],[2019.52,36200],[2019.62,34600],[2019.72,29100],[2019.82,26700],[2019.92,29100],[2020.02,26700],[2020.12,23500]];

const N_TERRA: Pt[] = [[2004.59,13300],[2004.69,31400],[2004.77,33800],[2004.85,46500],[2004.92,43300],[2005.00,38600],[2005.09,35800],[2005.15,42500],[2005.21,49600],[2005.28,43300],[2005.35,31400],[2005.43,16400],[2005.50,22000],[2005.59,8500],[2005.68,19600],[2005.76,29900],[2005.83,37800],[2005.91,37000],[2006.01,39300],[2006.11,37000],[2006.21,35400],[2006.31,27500],[2006.41,18000],[2006.57,11700],[2006.67,7700],[2006.74,16400],[2006.82,27500],[2006.92,25100],[2007.00,33800],[2007.07,44900],[2007.15,43300],[2007.22,44900],[2007.32,38600],[2007.38,21200],[2007.48,11700],[2007.58,8500],[2007.65,18000],[2007.73,33800],[2007.83,49600],[2007.91,47200],[2008.01,41700],[2008.08,52000],[2008.19,72500],[2008.26,69400],[2008.34,56700],[2008.44,18800],[2008.54,22800],[2008.65,31400],[2008.75,51200],[2008.82,70200],[2008.90,69800],[2008.97,90700],[2009.05,88300],[2009.15,88700],[2009.25,89100],[2009.33,69400],[2009.40,24300],[2009.48,25100],[2009.56,21200],[2009.66,41700],[2009.76,59100],[2009.81,77300],[2009.89,73300],[2009.96,78100],[2010.04,84400],[2010.11,93900],[2010.15,109300],[2010.19,93900],[2010.32,55100],[2010.44,25900],[2010.54,28300],[2010.64,30700],[2010.72,51200],[2010.80,73300],[2010.87,71700],[2010.95,74900],[2011.00,78800],[2011.07,68600],[2011.15,84400],[2011.22,74900],[2011.33,43300],[2011.40,19600],[2011.48,21200],[2011.58,20400],[2011.66,20400],[2011.73,53600],[2011.80,44100],[2011.86,51200],[2011.96,59900],[2012.06,57500],[2012.16,56700],[2012.24,78800],[2012.31,56700],[2012.41,24300],[2012.51,25900],[2012.59,26700],[2012.67,25100],[2012.77,44900],[2012.90,53600],[2012.97,70200],[2013.05,67000],[2013.16,75700],[2013.22,67000],[2013.30,43300],[2013.40,24300],[2013.48,24300]];

const N_AQUA: Pt[] = [[2004.59,12500],[2004.69,33800],[2004.79,51200],[2004.90,52800],[2004.97,47200],[2005.05,43300],[2005.12,39300],[2005.20,54300],[2005.28,48000],[2005.35,30700],[2005.45,25900],[2005.55,19600],[2005.66,24300],[2005.76,33000],[2005.86,36200],[2005.93,30700],[2006.01,41700],[2006.09,40100],[2006.19,41700],[2006.26,35400],[2006.39,23500],[2006.49,20400],[2006.59,19600],[2006.67,11700],[2006.77,21200],[2006.84,25100],[2006.94,27500],[2007.02,33800],[2007.10,37000],[2007.22,43300],[2007.30,45700],[2007.38,31400],[2007.48,15600],[2007.58,7000],[2007.68,15600],[2007.78,32200],[2007.86,35400],[2007.91,27500],[2007.98,19600],[2008.08,17200],[2008.19,12500],[2008.24,5400],[2008.29,3000],[2008.40,2500],[2008.52,15000],[2008.62,25100],[2008.72,29100],[2008.87,31400],[2008.97,44100],[2009.08,38600],[2009.18,35400],[2009.30,27500],[2009.40,11700],[2009.48,12500],[2009.58,14900],[2009.71,23500],[2009.83,35400],[2009.94,40900],[2010.04,46500],[2010.14,55100],[2010.21,41700],[2010.32,29100],[2010.42,17200],[2010.52,18800],[2010.62,27500],[2010.72,33800],[2010.82,40100],[2010.95,39300],[2011.05,40100],[2011.15,36200],[2011.25,40100],[2011.33,21200],[2011.40,15600],[2011.50,14900],[2011.60,15600],[2011.71,27500],[2011.81,31400],[2011.91,37000],[2012.01,39300],[2012.14,40100],[2012.24,39300],[2012.34,31400],[2012.44,17200],[2012.54,19600],[2012.64,25100],[2012.77,31400],[2012.92,47200],[2013.02,38600],[2013.12,33800],[2013.22,28300],[2013.33,23500],[2013.43,19600],[2013.53,22000],[2013.63,30000],[2013.78,43300],[2013.88,43300],[2013.98,41700],[2014.06,35400],[2014.13,50400],[2014.18,54300],[2014.24,51200],[2014.29,35400],[2014.31,19600],[2014.36,11700],[2014.46,1400],[2014.58,1400],[2014.69,2200],[2014.79,16400],[2014.94,27500],[2014.99,37000],[2015.09,37000],[2015.19,39300],[2015.27,33800],[2015.37,23500],[2015.45,11700],[2015.55,13300],[2015.65,19600],[2015.80,30700],[2015.93,39300],[2016.03,33000],[2016.15,35400],[2016.25,27500],[2016.38,18000],[2016.51,7700],[2016.63,19600],[2016.76,25900],[2016.89,35400],[2016.99,39300],[2017.14,44100],[2017.22,44900],[2017.29,35400],[2017.37,26700],[2017.47,15600],[2017.57,18000],[2017.67,20400],[2017.80,27500],[2017.92,29900],[2018.00,33000],[2018.13,35400],[2018.25,30700],[2018.35,19600],[2018.45,11700],[2018.56,11700],[2018.68,17200],[2018.81,25100],[2018.94,35400],[2019.01,44100],[2019.09,40100],[2019.19,38600],[2019.29,30700],[2019.39,19600],[2019.49,11700],[2019.62,19600],[2019.74,27500],[2019.85,35400],[2019.95,38600],[2020.07,36200],[2020.20,32200],[2020.30,23500],[2020.40,14100],[2020.50,9300],[2020.60,11700],[2020.70,17200],[2020.80,14100],[2020.88,8500]];

const U_DATA: Pt[][] = [U_NOAA14, U_NOAA15, U_NOAA16, U_NOAA17, U_NOAA18, U_NOAA19, U_METOPA, U_NPP, U_TERRA, U_AQUA];
const N_DATA: Pt[][] = [N_NOAA14, N_NOAA15, N_NOAA16, N_NOAA17, N_NOAA18, N_NOAA19, N_METOPA, N_NPP, N_TERRA, N_AQUA];

// ---------- styles ----------
const COLORS: Record<string, string> = {
  noaa14: "#0000ff",
  noaa15: "#00ee00",
  noaa16: "#e6b400",
  noaa17: "#ff00ff",
  noaa18: "#00ffff",
  noaa19: "#a52a2a",
  metopa: "#ff0000",
  npp: "#0a3f3f",
  terra: "#0a3f3f",
  aqua: "#8899f0",
};
const DASHED: Record<string, boolean> = { npp: true, aqua: true };

const FONT = "Liberation Sans";
const FS = 39;
const FS_TITLE = 40;
const LW = 4.5;

const GRID_LINE = { show: true, lineStyle: { color: "#8a8a8a", type: [2, 3], width: 1.5 } };
const TICK_STYLE = { color: "#000", width: 2 };

function xAxes(gridIndex: number) {
  const base = { type: "value", gridIndex, min: X_MIN, max: X_MAX, axisLine: { show: false }, axisPointer: { show: false } };
  const noLabel = { show: false };
  const noSplit = { show: false };
  return [
    {
      ...base,
      position: "bottom",
      axisTick: { show: true, inside: true, length: 9, customValues: MAJOR_YEARS, lineStyle: TICK_STYLE },
      axisLabel: {
        show: true,
        customValues: MAJOR_YEARS,
        margin: 20,
        fontSize: FS,
        fontFamily: FONT,
        color: "#000",
        formatter: (v: number) => String(Math.round(v)),
      },
      splitLine: GRID_LINE,
    },
    { ...base, position: "bottom", axisTick: { show: true, inside: true, length: 5, customValues: ALL_YEARS, lineStyle: TICK_STYLE }, axisLabel: noLabel, splitLine: noSplit },
    { ...base, position: "top", axisTick: { show: true, inside: true, length: 9, customValues: MAJOR_YEARS, lineStyle: TICK_STYLE }, axisLabel: noLabel, splitLine: noSplit },
    { ...base, position: "top", axisTick: { show: true, inside: true, length: 5, customValues: ALL_YEARS, lineStyle: TICK_STYLE }, axisLabel: noLabel, splitLine: noSplit },
  ];
}

function yAxes(gridIndex: number, min: number, max: number, interval: number) {
  const base = { type: "value", gridIndex, min, max, interval, axisLine: { show: false } };
  return [
    {
      ...base,
      position: "left",
      axisTick: { show: true, inside: true, length: 9, lineStyle: TICK_STYLE },
      axisLabel: { margin: 26, fontSize: FS, fontFamily: FONT, color: "#000", formatter: (v: number) => String(v) },
      splitLine: GRID_LINE,
    },
    {
      ...base,
      position: "right",
      axisTick: { show: true, inside: true, length: 9, lineStyle: TICK_STYLE },
      axisLabel: { show: false },
      splitLine: { show: false },
    },
  ];
}

function makeSeries(name: string, data: Pt[], xi: number, yi: number) {
  const color = COLORS[name];
  return {
    name,
    type: "line",
    xAxisIndex: xi,
    yAxisIndex: yi,
    data,
    symbol: "none",
    showSymbol: false,
    connectNulls: false,
    silent: true,
    emphasis: { disabled: true },
    itemStyle: { color },
    lineStyle: { color, width: LW, type: DASHED[name] ? [18, 18] : "solid", cap: "butt", join: "round" },
  };
}

const legendBase = {
  data: SERIES_NAMES,
  orient: "vertical",
  right: 0,
  align: "right",
  itemWidth: 97,
  itemHeight: 14,
  itemGap: 0,
  padding: 0,
  selectedMode: false,
  itemStyle: { opacity: 0 },
  lineStyle: { width: LW },
  textStyle: { fontSize: FS, fontFamily: FONT, color: "#000", lineHeight: 40, padding: [0, 20, 0, 0] },
};

function textEl(text: string, x: number, y: number, size: number, rotation = 0) {
  return {
    type: "text",
    x,
    y,
    rotation,
    silent: true,
    style: { text, fontSize: size, fontFamily: FONT, fill: "#000", textAlign: "center", textVerticalAlign: "middle" },
  };
}

function buildOption() {
  const series: any[] = [];
  SERIES_NAMES.forEach((n, i) => series.push(makeSeries(n, U_DATA[i], 0, 0)));
  SERIES_NAMES.forEach((n, i) => series.push(makeSeries(n, N_DATA[i], 4, 2)));
  return {
    animation: false,
    backgroundColor: "#ffffff",
    textStyle: { fontFamily: FONT },
    grid: [
      { left: 199, top: 111, width: 1716, height: 762, show: true, borderColor: "#000", borderWidth: 3, backgroundColor: "transparent", containLabel: false },
      { left: 270, top: 1247, width: 1645, height: 522, show: true, borderColor: "#000", borderWidth: 3, backgroundColor: "transparent", containLabel: false },
    ],
    xAxis: [...xAxes(0), ...xAxes(1)],
    yAxis: [...yAxes(0, U_MIN, U_MAX, U_STEP), ...yAxes(1, N_MIN, N_MAX, N_STEP)],
    legend: [
      { ...legendBase, top: 112 },
      { ...legendBase, top: 1248 },
    ],
    graphic: [
      textEl(TITLE_TOP, 1056, 52, FS_TITLE),
      textEl(YNAME_TOP, 43, 490, FS, Math.PI / 2),
      textEl(TITLE_BOTTOM, 1092, 1187, FS),
      textEl(YNAME_BOTTOM, 40, 1508, FS, Math.PI / 2),
      textEl(XNAME_BOTTOM, 1092, 1865, FS),
    ],
    series,
  };
}

export default function App() {
  const ref = useRef<HTMLDivElement>(null);
  useEffect(() => {
    if (!ref.current) return;
    const chart = echarts.init(ref.current, null, { renderer: "svg" });
    chart.setOption(buildOption() as any);
    return () => chart.dispose();
  }, []);
  return (
    <div
      ref={ref}
      style={{ position: "absolute", left: 0, top: 0, width: 2227, height: 1888, background: "#fff" }}
    />
  );
}
